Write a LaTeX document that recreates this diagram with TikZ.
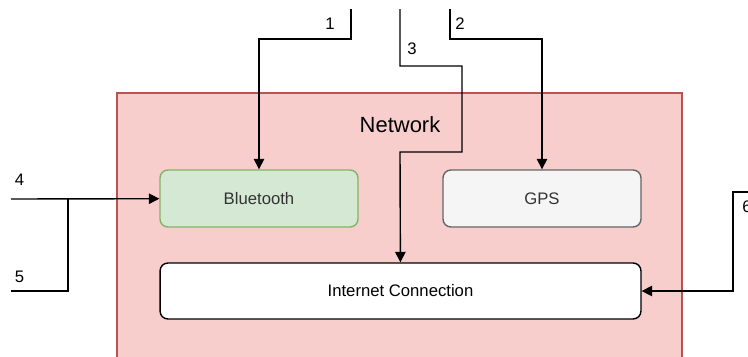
\documentclass[tikz,border=0pt]{standalone}
\usepackage{fontspec}
\setmainfont{Liberation Sans}
\usetikzlibrary{arrows.meta, positioning}

\definecolor{netfill}{HTML}{F8CECC}
\definecolor{netline}{HTML}{B85450}
\definecolor{btfill}{HTML}{D5E8D4}
\definecolor{btline}{HTML}{82B366}
\definecolor{gpsfill}{HTML}{F5F5F5}
\definecolor{gpsline}{HTML}{666666}
\definecolor{txtgray}{HTML}{333333}

\begin{document}
\begin{tikzpicture}[
    x=0.02cm, y=-0.02cm,
    font=\fontsize{9.5}{11}\selectfont,
    netbox/.style={draw=netline, fill=netfill, line width=0.8pt, minimum width=11.3cm, minimum height=5.54cm},
    box/.style={draw, rounded corners=4.5pt, line width=0.8pt, minimum width=3.96cm, minimum height=1.14cm, align=center},
    wbox/.style={box, fill=white, minimum width=9.62cm, minimum height=1.12cm},
    lbl/.style={inner sep=0pt},
    arr/.style={-{Triangle[length=6pt, width=6pt]}, line width=0.8pt},
    wire/.style={line width=0.8pt},
]

\clip (0,0) rectangle (748,356);

\node[netbox] (net) at (399.5,231.5) {};
\node[lbl, font=\fontsize{12.5}{14}\selectfont] (nettitle) at (400,125) {Network};

\node[box, fill=btfill, draw=btline, text=txtgray] (bt) at (259,198.5) {Bluetooth};
\node[box, fill=gpsfill, draw=gpsline, text=txtgray] (gps) at (542,198.5) {GPS};
\node[wbox] (inet) at (400.5,291) {Internet Connection};

\coordinate (in1) at (351,9);
\coordinate (in2) at (450,9);
\coordinate (in3) at (400,9);
\coordinate (in4) at (11,199);
\coordinate (in5) at (11,291);
\coordinate (jn)  at (68,199);
\coordinate (in6) at (752,192);

\draw[arr] (in1) -- ++(0,30) -| (bt);
\draw[arr] (in2) -- ++(0,30) -| (gps);
\draw[arr] (in3) -- ++(0,57) -- ++(62,0) -- ++(0,86) -- ++(-62,0) -- (inet);
\draw[arr] (in4) -- (bt);
\draw[wire] (in5) -| (jn);
\draw[arr] (in6) -- (733,192) |- (inet);

\node[lbl] (l1) at (330,24) {1};
\node[lbl] (l2) at (460,24) {2};
\node[lbl] (l3) at (412,49) {3};
\node[lbl] (l4) at (19.5,180) {4};
\node[lbl] (l5) at (19.5,277) {5};
\node[lbl, anchor=west] (l6) at (742,207) {6};

\end{tikzpicture}
\end{document}
